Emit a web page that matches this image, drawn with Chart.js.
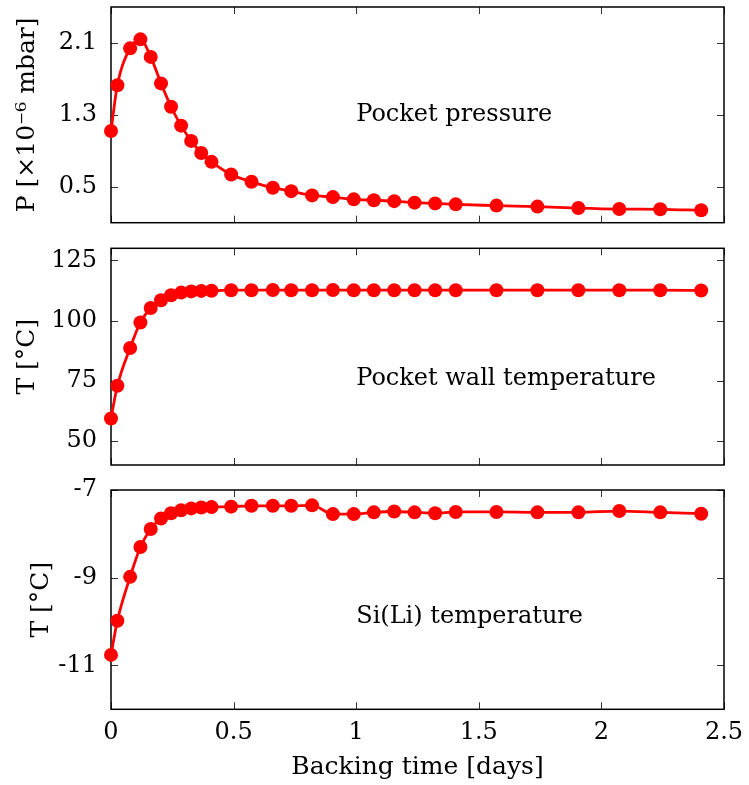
<!DOCTYPE html>
<html>
<head>
<meta charset="utf-8">
<script src="https://cdn.jsdelivr.net/npm/chart.js@4.4.1/dist/chart.umd.min.js"></script>
<style>
  html, body { margin: 0; padding: 0; background: #fff; }
  #wrap { position: relative; width: 749px; height: 785px; }
  #wrap canvas { position: absolute; left: 0; }
</style>
</head>
<body>
<div id="wrap">
  <canvas id="pressureChart" width="749" height="240" style="top:0px"></canvas>
  <canvas id="wallChart" width="749" height="235" style="top:240px"></canvas>
  <canvas id="siliChart" width="749" height="310" style="top:475px"></canvas>
</div>
<script>
// backing time of each reading [days]
const days = [0, 0.026, 0.078, 0.12, 0.162, 0.204, 0.245, 0.286, 0.327, 0.368, 0.41,
  0.49, 0.573, 0.66, 0.735, 0.82, 0.905, 0.99, 1.072, 1.155, 1.238, 1.322, 1.406,
  1.572, 1.739, 1.906, 2.073, 2.24, 2.407];

// pocket pressure [x10^-6 mbar]
const pressure = [1.12, 1.63, 2.04, 2.14, 1.945, 1.65, 1.39, 1.18, 1.01, 0.876, 0.777,
  0.636, 0.555, 0.489, 0.451, 0.404, 0.385, 0.36, 0.35, 0.34, 0.323, 0.315, 0.304,
  0.29, 0.279, 0.263, 0.252, 0.249, 0.238];

// pocket wall temperature [C]
const wallTemp = [59.3, 72.9, 88.6, 99.2, 105.2, 108.4, 110.5, 111.6, 112.1, 112.3, 112.4,
  112.6, 112.6, 112.7, 112.6, 112.6, 112.7, 112.6, 112.6, 112.6, 112.6, 112.6, 112.6,
  112.6, 112.6, 112.6, 112.6, 112.6, 112.5];

// Si(Li) temperature [C]
const siliTemp = [-10.76, -9.98, -8.98, -8.30, -7.89, -7.65, -7.53, -7.46, -7.42, -7.40, -7.39,
  -7.38, -7.36, -7.36, -7.36, -7.35, -7.55, -7.55, -7.51, -7.49, -7.51, -7.53, -7.50,
  -7.50, -7.51, -7.51, -7.48, -7.51, -7.54];

const xTicks = [0, 0.5, 1, 1.5, 2, 2.5];
const pTicks = [0.5, 1.3, 2.1];
const wallTicks = [50, 75, 100, 125];
const siliTicks = [-11, -9, -7];

const FONT = "'DejaVu Serif', 'Liberation Serif', serif";

// box round the plot, ticks pointing inwards on all four sides, and the panel label
const framePlugin = {
  id: 'frame',
  beforeDatasetsDraw(chart) {
    const ctx = chart.ctx, a = chart.chartArea;
    const xs = chart.scales.x, ys = chart.scales.y;
    const len = 7;
    ctx.save();
    ctx.strokeStyle = '#333';
    ctx.lineWidth = 1;
    ctx.beginPath();
    xs.ticks.forEach(t => {
      const px = Math.round(xs.getPixelForValue(t.value)) + 0.5;
      ctx.moveTo(px, a.bottom); ctx.lineTo(px, a.bottom - len);
      ctx.moveTo(px, a.top); ctx.lineTo(px, a.top + len);
    });
    ys.ticks.forEach(t => {
      const py = Math.round(ys.getPixelForValue(t.value)) + 0.5;
      ctx.moveTo(a.left, py); ctx.lineTo(a.left + len, py);
      ctx.moveTo(a.right, py); ctx.lineTo(a.right - len, py);
    });
    ctx.stroke();
    ctx.strokeStyle = '#000';
    ctx.lineWidth = 1.5;
    ctx.strokeRect(a.left, a.top, a.right - a.left, a.bottom - a.top);
    ctx.restore();
  },
  afterDraw(chart, args, opts) {
    if (!opts.text) return;
    const ctx = chart.ctx;
    ctx.save();
    ctx.font = '24px ' + FONT;
    ctx.fillStyle = '#000';
    ctx.textAlign = 'left';
    ctx.textBaseline = 'middle';
    ctx.fillText(opts.text,
      chart.scales.x.getPixelForValue(opts.at[0]),
      chart.scales.y.getPixelForValue(opts.at[1]));
    ctx.restore();
  }
};

function makePanel(id, values, yMin, yMax, yTicks, yTitle, titlePad, label, labelAt, padTop, padBottom, showX) {
  return new Chart(document.getElementById(id), {
    type: 'line',
    data: {
      datasets: [{
        data: days.map((d, i) => ({ x: d, y: values[i] })),
        borderColor: '#ff0000',
        backgroundColor: '#ff0000',
        borderWidth: 2.8,
        pointRadius: 7,
        pointBorderWidth: 0,
        cubicInterpolationMode: 'monotone',
        clip: false
      }]
    },
    options: {
      responsive: false,
      animation: false,
      devicePixelRatio: 1,
      layout: { padding: { left: 0, right: 25, top: padTop, bottom: padBottom } },
      plugins: {
        legend: { display: false },
        tooltip: { enabled: false },
        frame: { text: label, at: labelAt }
      },
      scales: {
        x: {
          type: 'linear',
          min: 0,
          max: 2.5,
          afterBuildTicks: s => { s.ticks = xTicks.map(v => ({ value: v })); },
          afterFit: s => {
            s.height = showX ? 75.7 : 0;
            s.paddingLeft = 0; s.paddingRight = 0;
          },
          grid: { display: false, drawTicks: false },
          border: { display: false },
          ticks: {
            display: showX,
            padding: 9,
            maxRotation: 0,
            autoSkip: false,
            color: '#000',
            font: { family: FONT, size: 24 },
            callback: v => String(v)
          },
          title: {
            display: showX,
            text: 'Backing time [days]',
            color: '#000',
            font: { family: FONT, size: 25 },
            padding: { top: 0, bottom: 3 }
          }
        },
        y: {
          type: 'linear',
          min: yMin,
          max: yMax,
          afterBuildTicks: s => { s.ticks = yTicks.map(v => ({ value: v })); },
          afterFit: s => {
            s.width = 111;
            s.paddingTop = 0; s.paddingBottom = 0;
          },
          grid: { display: false, drawTicks: false },
          border: { display: false },
          ticks: {
            padding: 14,
            color: '#000',
            font: { family: FONT, size: 24 },
            callback: v => String(v)
          },
          title: {
            display: true,
            text: yTitle,
            color: '#000',
            font: { family: FONT, size: 25 },
            padding: { top: titlePad, bottom: 0 }
          }
        }
      }
    },
    plugins: [framePlugin]
  });
}

makePanel('pressureChart', pressure, 0.1, 2.5, pTicks, 'P [×10⁻⁶ mbar]', 12,
  'Pocket pressure', [1, 1.3], 6, 17.3, false);
makePanel('wallChart', wallTemp, 40, 130, wallTicks, 'T [°C]', 12,
  'Pocket wall temperature', [1, 76], 8.3, 10, false);
makePanel('siliChart', siliTemp, -12, -7, siliTicks, 'T [°C]', 26,
  'Si(Li) temperature', [1, -9.9], 15, 0, true);
</script>
</body>
</html>
